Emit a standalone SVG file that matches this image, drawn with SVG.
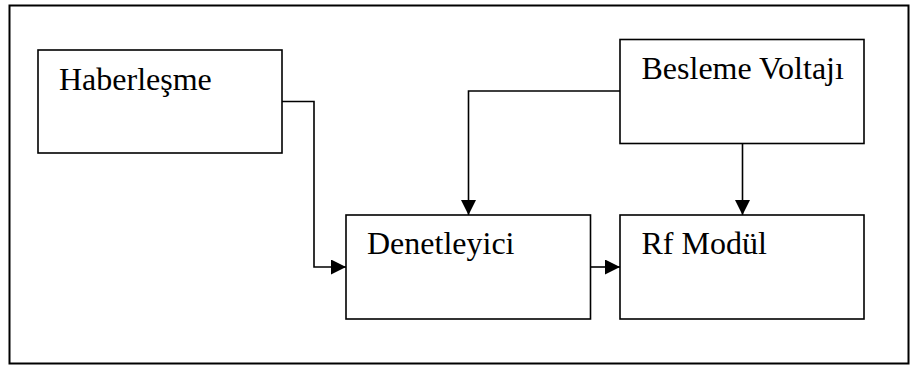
<svg xmlns="http://www.w3.org/2000/svg" width="910" height="365" viewBox="0 0 910 365">
  <style>
    .frame { fill: none; stroke: #000; stroke-width: 2; }
    .box { fill: #fff; stroke: #000; stroke-width: 1.6; }
    .label { font-family: "Liberation Serif", "Times New Roman", serif; font-size: 32px; fill: #000; }
    .wire { fill: none; stroke: #000; stroke-width: 1.6; }
  </style>
  <defs>
    <marker id="arrow" viewBox="0 0 15 15" refX="15" refY="7.5" markerWidth="15" markerHeight="15" markerUnits="userSpaceOnUse" orient="auto">
      <path d="M0,0 L15,7.5 L0,15 Z" fill="#000"/>
    </marker>
  </defs>

  <!-- outer border -->
  <rect class="frame" x="9.5" y="5.5" width="899" height="358"/>

  <!-- connectors -->
  <g id="connectors">
    <polyline class="wire" points="282,101.5 314,101.5 314,267 346,267" marker-end="url(#arrow)"/>
    <polyline class="wire" points="620,91 468.5,91 468.5,215" marker-end="url(#arrow)"/>
    <line class="wire" x1="742.5" y1="143" x2="742.5" y2="215" marker-end="url(#arrow)"/>
    <line class="wire" x1="590.5" y1="267" x2="620" y2="267" marker-end="url(#arrow)"/>
  </g>

  <g id="haberlesme">
    <rect class="box" x="38" y="50" width="244" height="103"/>
    <text class="label" x="59" y="90">Haberleşme</text>
  </g>

  <g id="besleme-voltaji">
    <rect class="box" x="620" y="39.5" width="244" height="104"/>
    <text class="label" x="641.5" y="79">Besleme Voltajı</text>
  </g>

  <g id="denetleyici">
    <rect class="box" x="346" y="215" width="244.5" height="104"/>
    <text class="label" x="367" y="254">Denetleyici</text>
  </g>

  <g id="rf-modul">
    <rect class="box" x="620" y="215" width="244" height="104"/>
    <text class="label" x="641.5" y="254">Rf Modül</text>
  </g>
</svg>
